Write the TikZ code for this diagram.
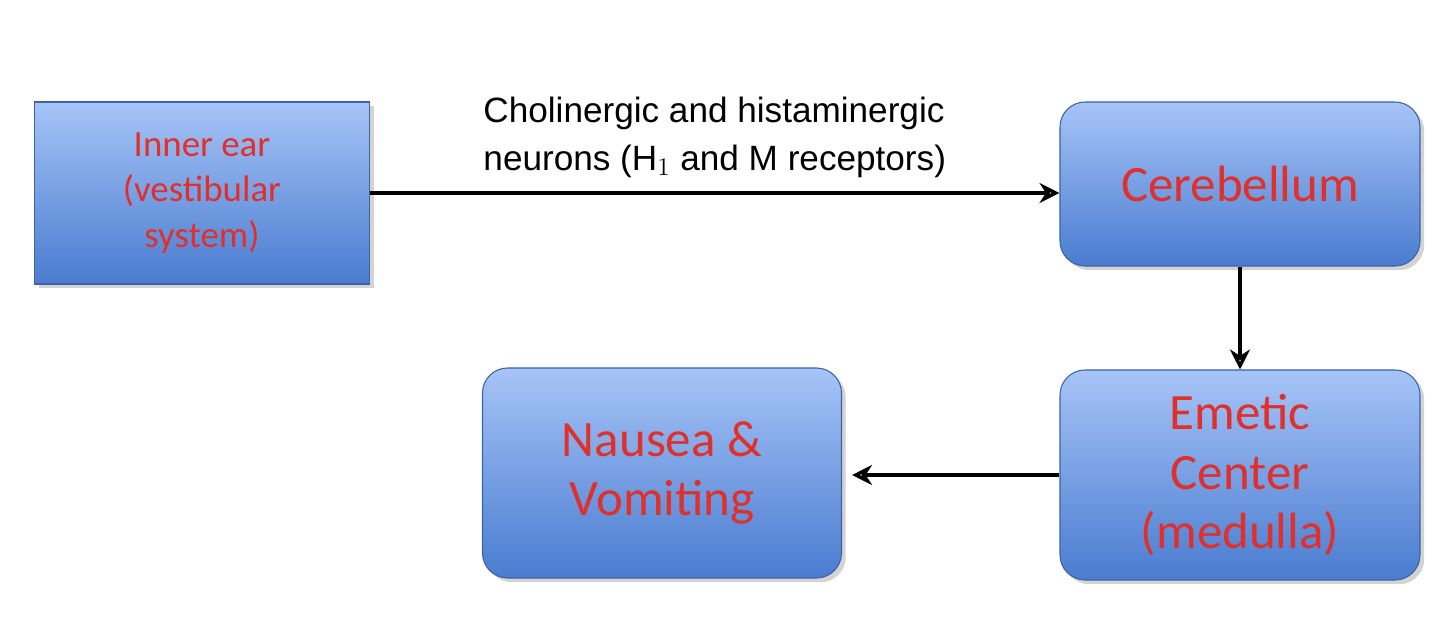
\documentclass[tikz,border=0pt]{standalone}
\usepackage{fontspec}
\setmainfont{Carlito}
\newfontfamily\lab{Liberation Sans}
\usetikzlibrary{arrows.meta,positioning,shadows}
\definecolor{boxTop}{HTML}{A6C4F7}
\definecolor{boxBot}{HTML}{4A7CD0}
\definecolor{txtRed}{HTML}{E0302C}
\tikzset{
	box/.style={top color=boxTop, bottom color=boxBot, draw=boxBot!80!black, line width=0.6pt,
		text=txtRed, align=center, drop shadow={opacity=0.35}, inner sep=0},
	flow/.style={-{Stealth[length=4mm,width=4mm,open]}, line width=2.2pt, black}
}
\begin{document}
\begin{tikzpicture}
	\useasboundingbox (0,0) rectangle (28.8,12.6);
	\node[box, minimum width=6.7cm, minimum height=3.64cm, font=\fontsize{21}{26}\selectfont] (ear) at (4.04,8.74) {Inner ear\\(vestibular\\system)};
	\node[box, rounded corners=5mm, minimum width=7.2cm, minimum height=3.28cm, font=\fontsize{29}{34}\selectfont] (cereb) at (24.8,8.92) {Cerebellum};
	\node[box, rounded corners=5mm, minimum width=7.2cm, minimum height=4.2cm, font=\fontsize{29}{34}\selectfont] (emetic) at (24.8,3.1) {Emetic\\Center\\(medulla)};
	\node[box, rounded corners=5mm, minimum width=7.18cm, minimum height=4.2cm, font=\fontsize{29}{34}\selectfont] (nausea) at (13.24,3.14) {Nausea \&\\Vomiting};
	\draw[flow] (ear.east |- 0,8.74) -- (cereb.west |- 0,8.74)
		node[pos=0.5, above=0.15cm, align=left, font=\lab\fontsize{20}{27}\selectfont] (txt)
		{Cholinergic and histaminergic\\neurons (H$_1$ and M receptors)};
	\draw[flow] (cereb) -- (emetic);
	\draw[flow] (emetic.west |- 0,3.1) -- ([xshift=2mm]nausea.east |- 0,3.1);
\end{tikzpicture}
\end{document}
